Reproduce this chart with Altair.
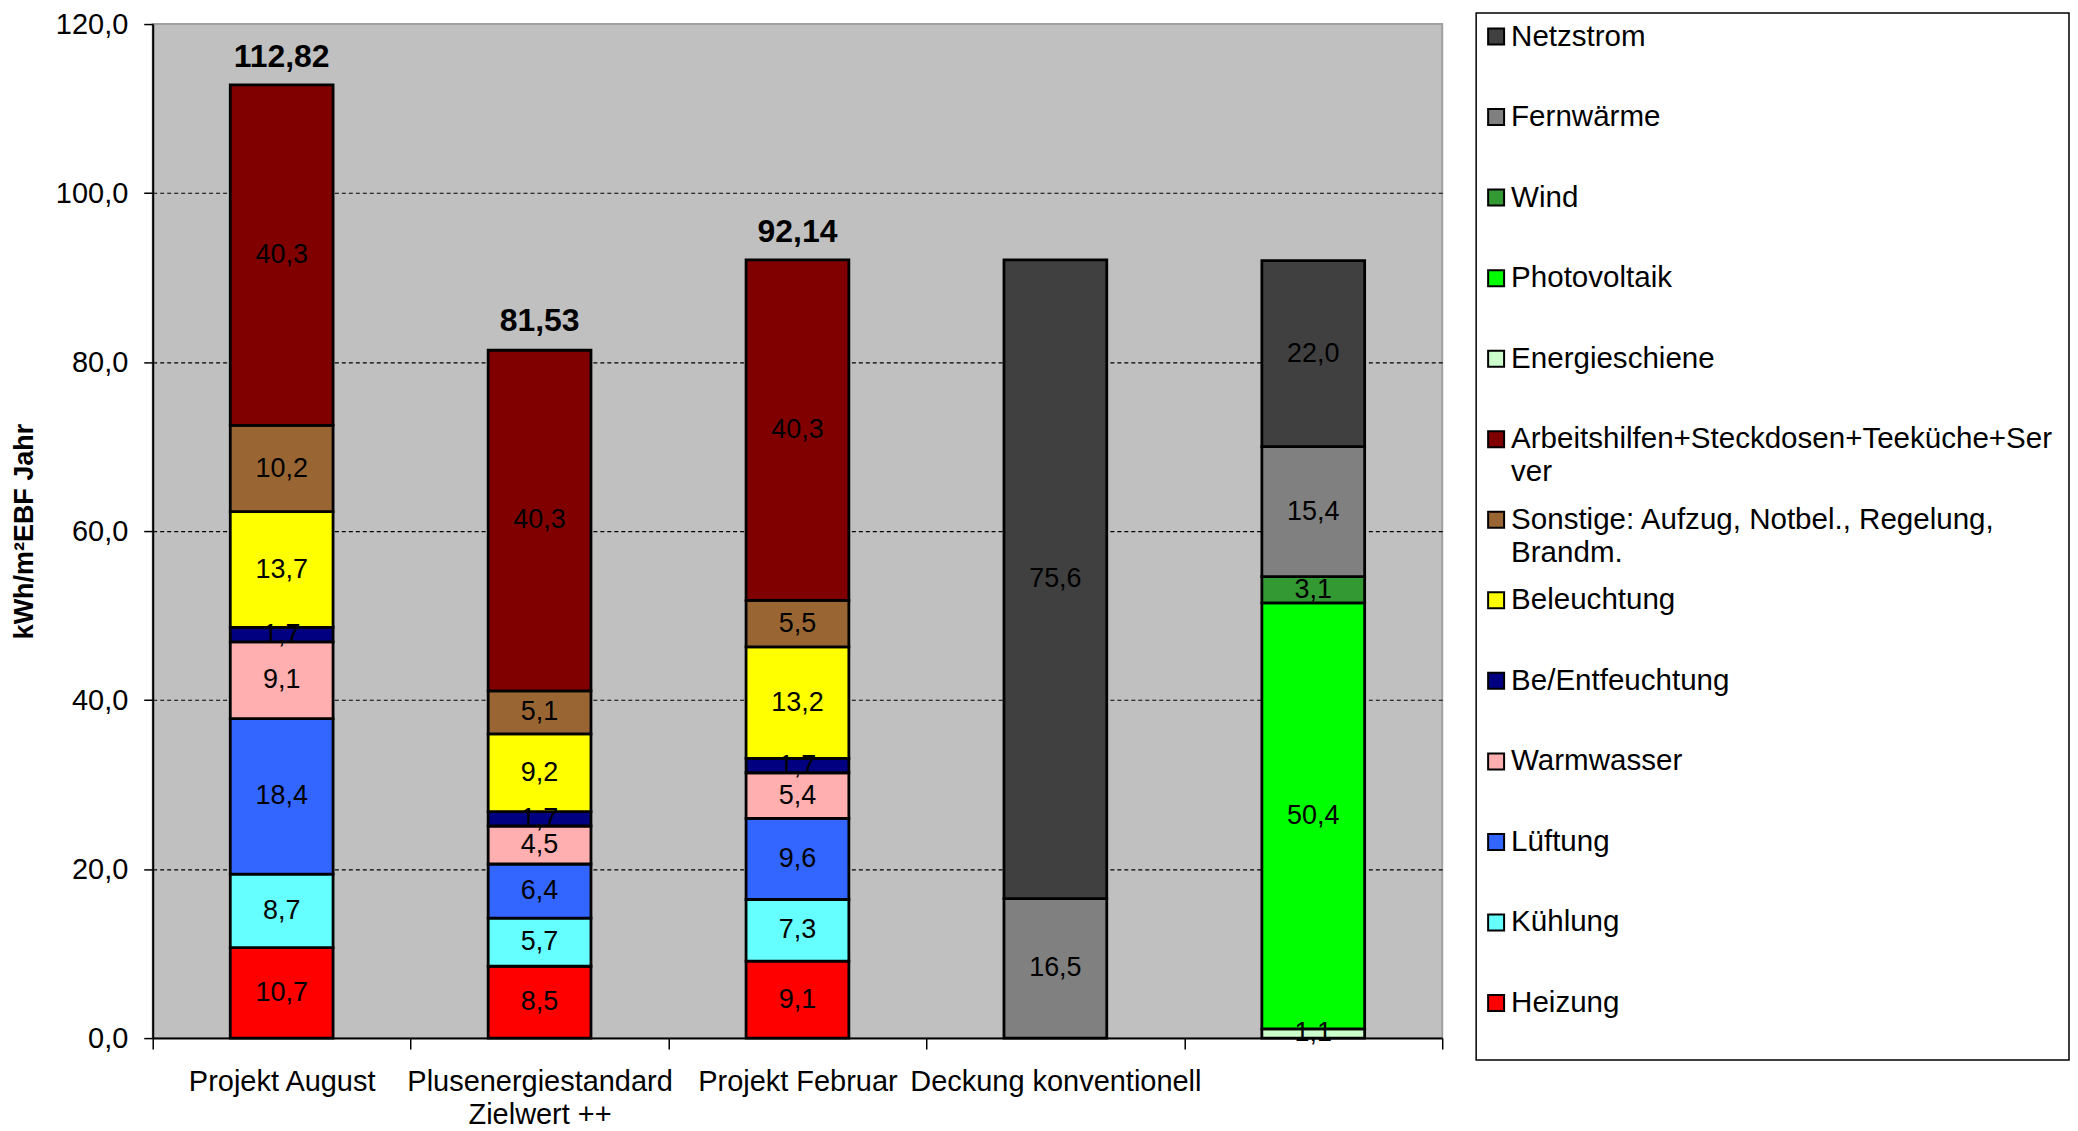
import altair as alt
import pandas as pd

# ---------------- data ----------------
categories = ["Projekt August", "Plusenergiestandard|Zielwert ++", "Projekt Februar",
              "Deckung konventionell", " "]

series = ["Heizung", "Kühlung", "Lüftung", "Warmwasser", "Be/Entfeuchtung", "Beleuchtung",
          "Sonstige: Aufzug, Notbel., Regelung, Brandm.",
          "Arbeitshilfen+Steckdosen+Teeküche+Server",
          "Energieschiene", "Photovoltaik", "Wind", "Fernwärme", "Netzstrom"]

legend_text = ["Heizung", "Kühlung", "Lüftung", "Warmwasser", "Be/Entfeuchtung", "Beleuchtung",
               "Sonstige: Aufzug, Notbel., Regelung,\nBrandm.",
               "Arbeitshilfen+Steckdosen+Teeküche+Ser\nver",
               "Energieschiene", "Photovoltaik", "Wind", "Fernwärme", "Netzstrom"]

colors = ["#FF0000", "#66FFFF", "#3366FF", "#FFAFAF", "#000080", "#FFFF00",
          "#996633", "#800000", "#CCFFCC", "#00FF00", "#339933", "#808080", "#404040"]

heizung        = [10.7, 8.5, 9.1, None, None]
kuehlung       = [8.7, 5.7, 7.3, None, None]
lueftung       = [18.4, 6.4, 9.6, None, None]
warmwasser     = [9.1, 4.5, 5.4, None, None]
entfeuchtung   = [1.7, 1.7, 1.7, None, None]
beleuchtung    = [13.7, 9.2, 13.2, None, None]
sonstige       = [10.2, 5.1, 5.5, None, None]
arbeitshilfen  = [40.3, 40.3, 40.3, None, None]
energieschiene = [None, None, None, None, 1.1]
photovoltaik   = [None, None, None, None, 50.4]
wind           = [None, None, None, None, 3.1]
fernwaerme     = [None, None, None, 16.5, 15.4]
netzstrom      = [None, None, None, 75.6, 22.0]

values = [heizung, kuehlung, lueftung, warmwasser, entfeuchtung, beleuchtung, sonstige,
          arbeitshilfen, energieschiene, photovoltaik, wind, fernwaerme, netzstrom]

total_categories = ["Projekt August", "Plusenergiestandard|Zielwert ++", "Projekt Februar"]
totals = [112.82, 81.53, 92.14]

# ---------------- tables ----------------
rows = []
for si, (s, vals) in enumerate(zip(series, values)):
    for c, v in zip(categories, vals):
        if v is not None:
            rows.append({"cat": c, "serie": s, "order": si, "value": v})
df = pd.DataFrame(rows)

df_tot = pd.DataFrame({"cat": total_categories, "total": totals})

# legend: top entry is the last series
leg_rows = []
for k, (s, t) in enumerate(zip(reversed(series), reversed(legend_text))):
    leg_rows.append({"serie": s, "text": t, "i": k})
df_leg = pd.DataFrame(leg_rows)

FONT = "Liberation Sans"

color_scale = alt.Scale(domain=series, range=colors)
y_scale = alt.Scale(domain=[0, 120], nice=False, zero=True)
x_enc = alt.X(
    "cat:N", sort=categories, title=None,
    scale=alt.Scale(paddingInner=0, paddingOuter=0),
    axis=alt.Axis(
        labelExpr="split(datum.label, '|')",
        labelAngle=0, labelFontSize=29, labelColor="black", labelLineHeight=33,
        labelPadding=19, labelOverlap=False, labelLimit=500,
        tickSize=11, tickBand="extent", tickColor="black", tickWidth=1.5,
        domainColor="black", domainWidth=2, grid=False,
    ),
)

y_axis = alt.Axis(
    values=[0, 20, 40, 60, 80, 100, 120],
    labelExpr="replace(format(datum.value, '.1f'), '.', ',')",
    labelFontSize=29, labelColor="black", labelPadding=16,
    tickSize=9, tickColor="black", tickWidth=1.5,
    domainColor="black", domainWidth=2,
    title="kWh/m²EBF Jahr", titleFontSize=27, titleFontWeight="bold",
    titleColor="black", titlePadding=17,
    grid=True, gridColor="black", gridDash=[4, 3], gridWidth=1.2,
    gridOpacity={"condition": {"test": "datum.value <= 0 || datum.value >= 120", "value": 0},
                 "value": 1},
)

base = alt.Chart(df).transform_stack(
    stack="value", groupby=["cat"], sort=[alt.SortField("order", "ascending")], as_=["y0", "y1"]
)

bars = base.mark_bar(size=103, stroke="black", strokeWidth=2.8).encode(
    x=x_enc,
    y=alt.Y("y0:Q", scale=y_scale, axis=y_axis),
    y2="y1:Q",
    color=alt.Color("serie:N", scale=color_scale, legend=None),
)

seg_text = base.transform_calculate(
    mid="(datum.y0 + datum.y1) / 2",
    lbl="replace(format(datum.value, '.1f'), '.', ',')",
).mark_text(fontSize=27, color="black", baseline="middle", align="center").encode(
    x=alt.X("cat:N", sort=categories),
    y=alt.Y("mid:Q", scale=y_scale),
    text="lbl:N",
)

tot_text = alt.Chart(df_tot).transform_calculate(
    lbl="replace(format(datum.total, '.2f'), '.', ',')"
).mark_text(fontSize=32, fontWeight="bold", color="black", baseline="alphabetic",
            align="center", dy=-18).encode(
    x=alt.X("cat:N", sort=categories),
    y=alt.Y("total:Q", scale=y_scale),
    text="lbl:N",
)

main = alt.layer(bars, seg_text, tot_text).properties(
    width=1292, height=1016,
    view=alt.ViewBackground(fill="#C0C0C0", stroke="#A0A0A0", strokeWidth=2),
)

# tiny invisible spacer so that the legend box can start above the plot area
spacer = alt.Chart(pd.DataFrame({"s": [0]})).mark_point(opacity=0, size=1).encode(
    x=alt.value(0), y=alt.value(0)
).properties(width=1, height=1, view=alt.ViewBackground(stroke="transparent", fill="transparent"))

left = alt.vconcat(spacer, main, spacing=-6)

leg_y = alt.Y("i:Q", scale=alt.Scale(domain=[12.708, -0.291], nice=False, zero=False), axis=None)

leg_sym = alt.Chart(df_leg).mark_square(size=256, stroke="black", strokeWidth=2, opacity=1).encode(
    x=alt.value(20),
    y=leg_y,
    color=alt.Color("serie:N", scale=color_scale, legend=None),
)
leg_txt = alt.Chart(df_leg).mark_text(
    align="left", baseline="top", dy=-14, fontSize=29.6, lineBreak="\n", lineHeight=33,
    color="black"
).encode(
    x=alt.value(35),
    y=leg_y,
    text="text:N",
)
legend = alt.layer(leg_sym, leg_txt).properties(
    width=594, height=1049,
    view=alt.ViewBackground(fill="white", stroke="black", strokeWidth=1.5),
)

chart = alt.hconcat(left, legend, spacing=31).properties(
    padding={"left": 1, "top": 0, "right": 0, "bottom": 0}
).configure(font=FONT)

chart.save("out.html", embed_options={"renderer": "svg", "actions": False})
